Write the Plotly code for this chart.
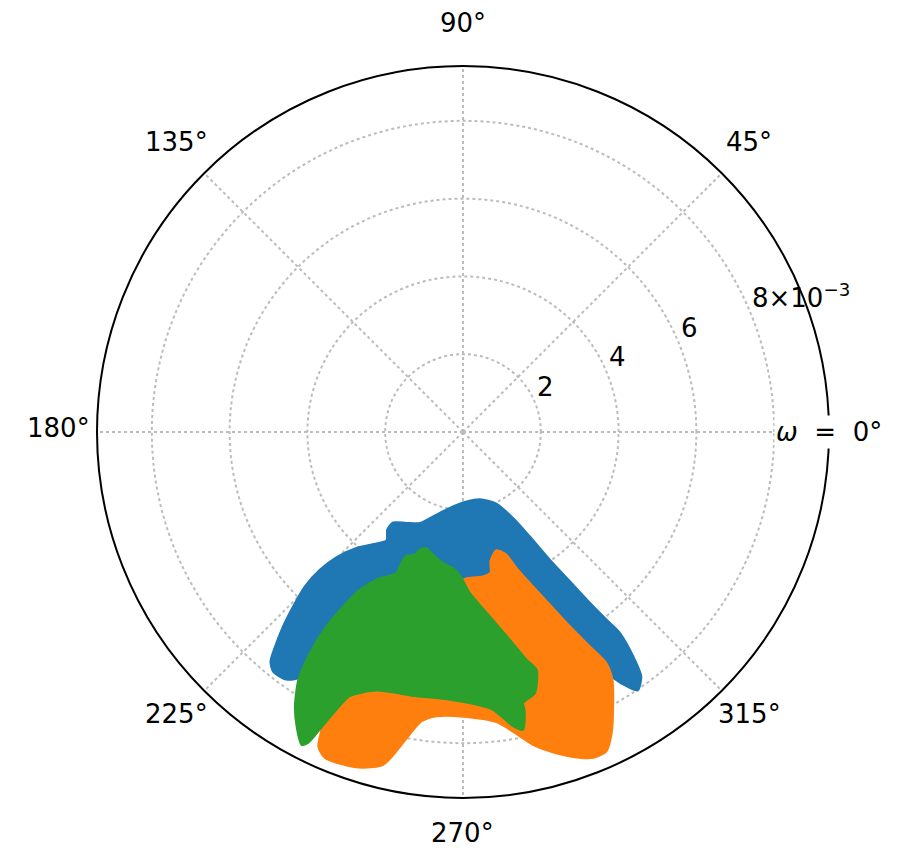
import math
import plotly.graph_objects as go

# Outlines of the three point clouds: omega in degrees, r in units of 1e-3
blue_theta = [234.5, 231.6, 230.0, 228.5, 227.2, 225.75, 224.3, 223.9, 224.7, 227.4,
              232.2, 234.8, 232.2, 232.3, 238.2, 244.6, 250.5, 260.1, 272.9, 284.1,
              295.0, 300.2, 302.6, 304.2, 305.6, 306.6, 307.4, 308.0, 307.2, 306.1,
              304.1, 303.1, 301.4, 299.9, 291.9, 270.0, 248.2, 236.7, 236.8]
blue_r = [7.82, 7.86, 7.70, 7.24, 6.81, 6.26, 5.68, 5.11, 4.57, 4.05,
          3.63, 3.41, 3.18, 2.94, 2.75, 2.59, 2.30, 1.98, 1.79, 1.78,
          2.03, 2.56, 3.19, 3.97, 4.72, 5.47, 6.07, 6.55, 7.24, 7.78,
          8.02, 7.85, 7.41, 6.55, 4.83, 4.05, 4.37, 6.08, 7.51]

orange_theta = [285.8, 289.5, 291.5, 294.4, 296.7, 298.8, 300.6, 301.8, 301.1, 298.7,
                296.3, 294.2, 291.8, 288.7, 285.2, 282.6, 280.0, 276.6, 270.7, 264.7,
                261.8, 260.0, 258.2, 256.5, 253.4, 250.2, 247.0, 245.3, 244.7, 244.2,
                245.4, 252.5, 266.9, 270.0, 270.0, 277.9, 281.1, 282.0]
orange_r = [3.16, 3.35, 3.76, 4.36, 4.97, 5.70, 6.40, 6.99, 7.44, 8.04,
            8.63, 9.00, 9.02, 8.82, 8.51, 8.24, 7.88, 7.51, 7.33, 7.34,
            7.52, 7.90, 8.39, 8.80, 9.01, 9.09, 9.10, 8.90, 8.56, 8.17,
            7.52, 6.81, 6.38, 4.65, 3.80, 3.75, 3.68, 3.40]

green_theta = [242.7, 240.5, 238.5, 236.4, 235.3, 234.9, 235.5, 236.8, 239.6, 244.7,
               244.8, 245.4, 248.6, 249.8, 252.5, 256.3, 261.4, 265.8, 269.4, 272.4,
               278.3, 282.7, 285.6, 287.2, 285.4, 282.5, 282.5, 281.4, 279.7, 275.9,
               267.2, 260.0, 251.5, 246.8, 245.5, 244.3, 243.5]
green_r = [9.05, 8.69, 8.27, 7.65, 6.91, 6.11, 5.44, 4.85, 4.40, 4.01,
           3.72, 3.50, 3.39, 3.22, 3.13, 3.25, 3.41, 3.51, 3.75, 4.14,
           4.79, 5.47, 6.08, 6.40, 6.96, 7.14, 7.31, 7.81, 7.68, 7.16,
           6.89, 6.90, 7.01, 7.39, 7.85, 8.49, 8.93]

# Axis ticks
r_max = 9.41
radial_ticks = [2, 4, 6, 8]
radial_labels = ["2", "4", "6", "8×10<sup>−3</sup>"]
radial_label_angle = 22.5
angle_ticks = [0, 45, 90, 135, 180, 225, 270, 315]
angle_labels = ["<i>ω</i>&nbsp;&nbsp;=&nbsp;&nbsp;0°", "45°", "90°", "135°",
                "180°", "225°", "270°", "315°"]

series = [
    (blue_theta, blue_r, "#1f77b4"),
    (orange_theta, orange_r, "#ff7f0e"),
    (green_theta, green_r, "#2ca02c"),
]

fig = go.Figure()
for th, rr, col in series:
    fig.add_trace(go.Scatterpolar(
        theta=th + th[:1], r=rr + rr[:1],
        mode="lines", fill="toself", fillcolor=col,
        line=dict(color=col, width=2, shape="spline", smoothing=0.7),
        hoverinfo="skip", showlegend=False,
    ))

grid = "#bcbcbc"
font = dict(family="DejaVu Sans", size=26, color="black")

W, H = 899, 848
dom_x = [97 / W, 829 / W]
dom_y = [50 / H, 782 / H]
cx, cy = sum(dom_x) / 2, sum(dom_y) / 2
half_x, half_y = (dom_x[1] - dom_x[0]) / 2, (dom_y[1] - dom_y[0]) / 2

annotations = []

# Angle labels sit just outside the rim; the 0 degree label sits on the rim
for ang, txt in zip(angle_ticks, angle_labels):
    k = 1.0 if ang == 0 else 1.106
    a = math.radians(ang)
    annotations.append(dict(
        text=txt, x=cx + k * half_x * math.cos(a), y=cy + k * half_y * math.sin(a),
        xref="paper", yref="paper", xanchor="center", yanchor="middle",
        yshift=0 if ang == 0 else 4,
        showarrow=False, font=font,
        bgcolor="white" if ang == 0 else "rgba(0,0,0,0)",
    ))

# Radial labels: lower-left corner on each ring along the label direction
b = math.radians(radial_label_angle)
for val, txt in zip(radial_ticks, radial_labels):
    f = val / r_max
    annotations.append(dict(
        text=txt, x=cx + f * half_x * math.cos(b), y=cy + f * half_y * math.sin(b),
        xref="paper", yref="paper", xanchor="left", yanchor="bottom",
        yshift=-2, showarrow=False, font=font,
    ))

fig.update_layout(
    width=W, height=H,
    margin=dict(l=0, r=0, t=0, b=0),
    paper_bgcolor="white",
    font=font,
    showlegend=False,
    polar=dict(
        domain=dict(x=dom_x, y=dom_y),
        bgcolor="white",
        radialaxis=dict(
            range=[0, r_max],
            tickvals=radial_ticks, showticklabels=False,
            angle=radial_label_angle,
            showline=False, ticks="",
            gridcolor=grid, griddash="dot", gridwidth=1.5,
        ),
        angularaxis=dict(
            tickvals=angle_ticks, showticklabels=False,
            rotation=0, direction="counterclockwise",
            showline=True, linecolor="black", linewidth=2,
            gridcolor=grid, griddash="dot", gridwidth=1.5,
            ticks="",
        ),
    ),
    annotations=annotations,
)

fig.write_html("out.html")
